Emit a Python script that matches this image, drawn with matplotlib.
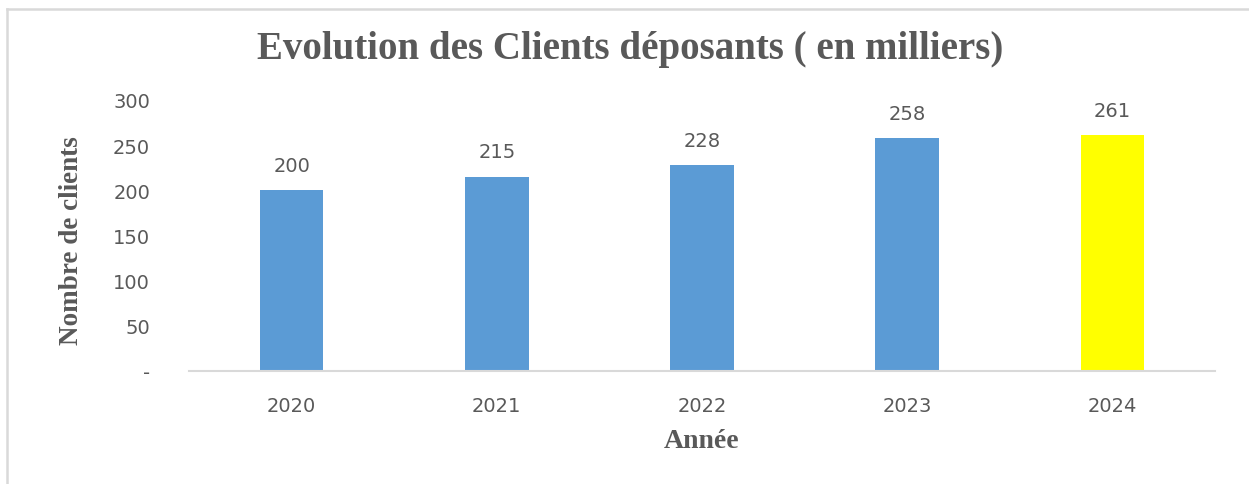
import matplotlib
matplotlib.use("Agg")
import matplotlib.pyplot as plt
from matplotlib.lines import Line2D

years = ["2020", "2021", "2022", "2023", "2024"]
clients = [200, 215, 228, 258, 261]
bar_colors = ["#5B9BD5", "#5B9BD5", "#5B9BD5", "#5B9BD5", "#FFFF00"]
yticks = [0, 50, 100, 150, 200, 250, 300]
ytick_labels = ["-", "50", "100", "150", "200", "250", "300"]

title = "Evolution des Clients déposants ( en milliers)"
xlabel = "Année"
ylabel = "Nombre de clients"

W, H = 1249, 485
fig = plt.figure(figsize=(W / 100, H / 100), dpi=100)
ax = fig.add_axes([189 / W, 1 - 372 / H, (1215 - 189) / W, (372 - 101) / H])

gray = "#595959"
sans = ["DejaVu Sans"]
serif = ["Liberation Serif", "DejaVu Serif"]

x = range(len(years))
bars = ax.bar(x, clients, width=0.31, color=bar_colors)
for xi, v in zip(x, clients):
    ax.text(xi, v + 17, str(v), ha="center", va="bottom", fontsize=14,
            color=gray, family=sans)

ax.set_xlim(-0.5, len(years) - 0.5)
ax.set_ylim(0, 300)
ax.set_xticks(list(x))
ax.set_xticklabels(years, fontsize=14, color=gray, family=sans)
ax.set_yticks(yticks)
ax.set_yticklabels(ytick_labels, fontsize=14, color=gray, family=sans)
ax.tick_params(axis="both", length=0)
ax.tick_params(axis="y", pad=28)
ax.tick_params(axis="x", pad=18)
for s in ["top", "right", "left"]:
    ax.spines[s].set_visible(False)
ax.spines["bottom"].set_color("#d9d9d9")
ax.spines["bottom"].set_linewidth(1.5)

fig.text(630 / W, 1 - 50 / H, title, ha="center", va="center", fontsize=28,
         fontweight="bold", color=gray, family=serif)
fig.text(702 / W, 1 - 442 / H, xlabel, ha="center", va="center", fontsize=20,
         fontweight="bold", color=gray, family=serif)
fig.text(72 / W, 1 - 241 / H, ylabel, ha="center", va="center", fontsize=19.5,
         fontweight="bold", color=gray, family=serif, rotation=90)

# chart border (top and left visible)
fig.add_artist(Line2D([7 / W, 1], [1 - 10 / H, 1 - 10 / H], color="#d9d9d9",
                      lw=1.8, transform=fig.transFigure))
fig.add_artist(Line2D([7 / W, 7 / W], [0, 1 - 10 / H], color="#d9d9d9",
                      lw=1.8, transform=fig.transFigure))

fig.savefig("out.png", dpi=100)
